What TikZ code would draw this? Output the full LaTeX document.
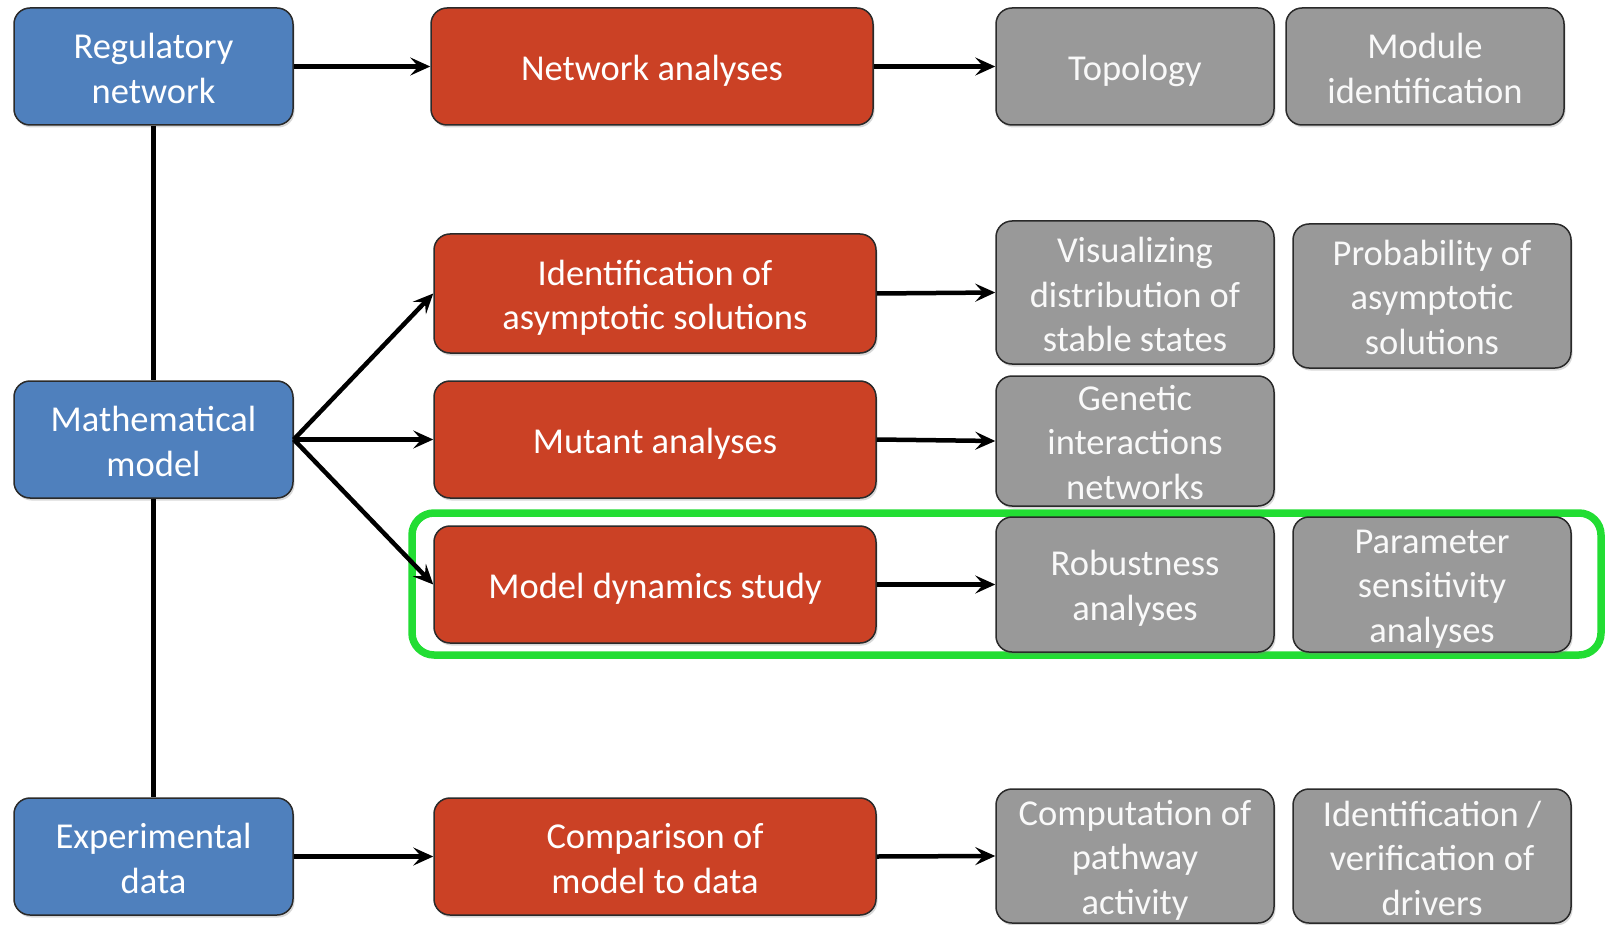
\documentclass[tikz,border=0pt]{standalone}
\usepackage{fontspec}
\setmainfont{Carlito}
\usetikzlibrary{arrows.meta,shadows}
\definecolor{bluebox}{HTML}{4F80BD}
\definecolor{redbox}{HTML}{CB4125}
\definecolor{graybox}{HTML}{999999}
\definecolor{greenframe}{HTML}{22DD33}
\definecolor{edgecol}{HTML}{2A2A2A}
\begin{document}
\begin{tikzpicture}[x=1pt,y=-1pt,
  base/.style={draw=edgecol, line width=1.5pt, rounded corners=16pt,
    inner sep=0pt,
    drop shadow={shadow xshift=1.5pt, shadow yshift=-2.5pt, opacity=0.3}},
  lbl/.style={align=center, inner sep=0pt, text=white,
    font=\fontsize{36.5}{44.5}\selectfont},
  glbl/.style={lbl, text=white!95!gray},
  bluenode/.style={base, fill=bluebox, minimum width=279pt, minimum height=117pt},
  rednode/.style={base, fill=redbox, minimum width=442pt, minimum height=117pt},
  graynode/.style={base, fill=graybox, minimum width=278pt},
  conn/.style={line width=4.5pt, draw=black},
  arr/.style={conn, -{Stealth[length=20pt,width=18pt,inset=8pt]}},
]
\useasboundingbox (0,0) rectangle (1605,925);
\fill[white] (0,0) rectangle (1605,925);

% green highlight frame
\draw[greenframe, line width=7.5pt, rounded corners=22pt] (412,513) rectangle (1601,655);

% blue column
\node[bluenode, label={[lbl, yshift=-2pt]center:{Regulatory\\network}}] (reg) at (153.5,66.5) {};
\node[bluenode, label={[lbl, yshift=-2pt]center:{Mathematical\\model}}] (math) at (153.5,439.5) {};
\node[bluenode, label={[lbl, yshift=-2pt]center:{Experimental\\data}}] (exp) at (153.5,856.5) {};

% red column
\node[rednode, label={[lbl, yshift=-4.5pt]center:{Network analyses}}] (net) at (652,66.5) {};
\node[rednode, minimum height=119pt, label={[lbl, yshift=-4.5pt]center:{Identification of\\asymptotic solutions}}] (ident) at (655,293.5) {};
\node[rednode, label={[lbl, yshift=-4.5pt]center:{Mutant analyses}}] (mut) at (655,439.5) {};
\node[rednode, label={[lbl, yshift=-4.5pt]center:{Model dynamics study}}] (dyn) at (655,584.5) {};
\node[rednode, label={[lbl, yshift=-2pt]center:{Comparison of\\model to data}}] (comp) at (655,856.5) {};

% gray columns
\node[graynode, minimum height=117pt, label={[glbl, yshift=-4pt]center:{Topology}}] (topo) at (1135,66.5) {};
\node[graynode, minimum height=117pt, label={[glbl, yshift=-2pt]center:{Module\\identification}}] (module) at (1425,66.5) {};
\node[graynode, minimum height=143pt, label={[glbl, yshift=-2pt]center:{Visualizing\\distribution of\\stable states}}] (visual) at (1135,292.5) {};
\node[graynode, minimum height=144pt, label={[glbl, yshift=-1pt]center:{Probability of\\asymptotic\\solutions}}] (prob) at (1432,296) {};
\node[graynode, minimum height=130pt, label={[glbl, yshift=-1.5pt]center:{Genetic\\interactions\\networks}}] (genetic) at (1135,441) {};
\node[graynode, minimum height=135pt, label={[glbl, yshift=-4pt]center:{Robustness\\analyses}}] (robust) at (1135,584.5) {};
\node[graynode, minimum height=135pt, label={[glbl, yshift=-4.5pt]center:{Parameter\\sensitivity\\analyses}}] (param) at (1432,584.5) {};
\node[graynode, minimum height=134pt, label={[glbl, yshift=-4pt]center:{Computation of\\pathway\\activity}}] (pathway) at (1135,856) {};
\node[graynode, minimum height=134pt, label={[glbl, yshift=-2pt]center:{Identification /\\verification of\\drivers}}] (drivers) at (1432,856) {};

% vertical connectors
\draw[conn] (reg.south) -- (math.north);
\draw[conn] (math.south) -- (exp.north);

% arrows blue -> red
\draw[arr] (reg.east) -- (net.west);
\draw[arr] (math.east) -- (ident.west);
\draw[arr] (math.east) -- (mut.west);
\draw[arr] (math.east) -- (dyn.west);
\draw[arr] (exp.east) -- (comp.west);

% arrows red -> gray
\draw[arr] (net.east) -- (topo.west);
\draw[arr] (ident.east) -- (visual.west);
\draw[arr] (mut.east) -- (genetic.west);
\draw[arr] (dyn.east) -- (robust.west);
\draw[arr] (comp.east) -- (pathway.west);
\end{tikzpicture}
\end{document}
